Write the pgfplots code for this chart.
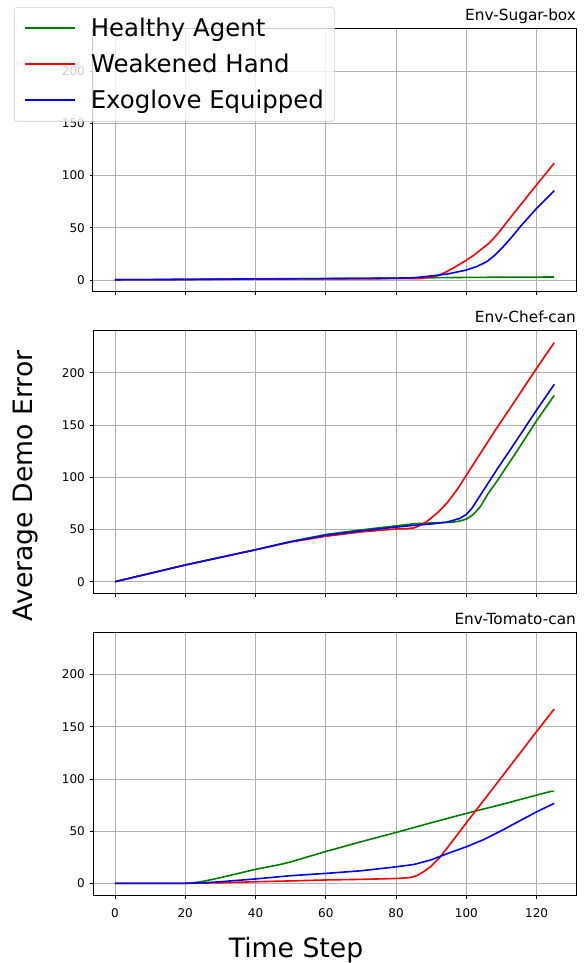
\documentclass[border=0pt]{standalone}
\usepackage{pgfplots}
\pgfplotsset{compat=1.18}
\usepackage{fontspec}
\setmainfont{DejaVu Sans}
\definecolor{mgreen}{RGB}{0,128,0}
\definecolor{gridgray}{RGB}{176,176,176}
\definecolor{legedge}{RGB}{204,204,204}

\pgfplotsset{
  panel/.style={
    scale only axis, width=362.4pt, height=197.25pt, anchor=south west,
    xmin=-6.25, xmax=131.25, ymin=-11.45, ymax=240.45,
    xtick={0,20,...,120}, ytick={0,50,...,200},
    grid=major, major grid style={gridgray, line width=0.6pt},
    axis line style={line width=0.75pt},
    tick align=outside, tick pos=left, major tick length=2.6pt,
    tick style={black, line width=0.6pt},
    ticklabel style={font=\fontsize{9}{10}\selectfont},
    xticklabel style={yshift=-3.5pt},
    /pgf/number format/assume math mode=true,
    title style={at={(1,1)}, anchor=base east, font=\fontsize{11.5}{13}\selectfont, inner sep=0pt},
    every axis plot/.append style={line width=1.2pt, line join=round},
  }
}

\begin{document}
\begin{tikzpicture}
\path[use as bounding box] (0,0) rectangle (438.75pt,722.25pt);

% Top: Env-Sugar-box
\begin{axis}[panel, at={(69.75pt,503.25pt)}, title={Env-Sugar-box}, xticklabels={},
  legend style={at={(-0.1635,1.0837)}, anchor=north west, draw=legedge, fill=white,
    fill opacity=0.8, text opacity=1, rounded corners=2.5pt,
    font=\fontsize{18.3}{22}\selectfont, inner xsep=7pt, inner ysep=5.5pt,
    row sep=6.5pt, column sep=10pt,
    nodes={inner sep=1pt, text height=15.5pt, text depth=3pt}},
  legend cell align=left,
  legend image code/.code={\draw[#1, line width=1.4pt] (0pt,0pt) -- (38pt,0pt);}]
\addplot[mgreen] coordinates {(0,0.3) (20,0.5) (40,1.0) (60,1.3) (80,1.8) (90,2.2) (100,2.5) (110,2.7) (125,2.9)};
\addlegendentry{Healthy Agent}
\addplot[red] coordinates {(0,0.3) (20,0.5) (40,0.9) (60,1.2) (80,1.3) (85,1.3) (87,1.5) (89,2.5) (91.6,3.8) (94.4,8) (97,13) (100,19) (102,23.5) (104,28.8) (106.5,35.5) (108.6,43) (110.5,51) (113.4,63.5) (120,91.3) (125,112)};
\addlegendentry{Weakened Hand}
\addplot[blue] coordinates {(0,0.3) (20,0.6) (40,1.1) (60,1.4) (80,1.8) (85,2.2) (89.7,3.8) (94.4,5.7) (97.5,7.8) (100,9.6) (103,13) (105.8,17.6) (108,23.5) (110.5,32) (113,41.5) (115.3,51) (120,68.7) (125,85.6)};
\addlegendentry{Exoglove Equipped}
\end{axis}

% Middle: Env-Chef-can
\begin{axis}[panel, at={(69.75pt,277pt)}, title={Env-Chef-can}, xticklabels={}]
\addplot[mgreen] coordinates {(0,0) (10,8) (20,16) (30,23.3) (40,30.6) (50,38.5) (60,45.2) (70,49.6) (80,53.5) (85,55.5) (90,56.3) (96,57) (98,58) (100,60) (102,64.5) (104,72) (106,83.5) (108.6,95.8) (113.4,120) (120,154.3) (125,178.5)};
\addplot[red] coordinates {(0,0) (10,8) (20,16) (30,23.3) (40,30.6) (50,38) (60,43.5) (70,47.7) (80,50.5) (83,50.8) (85,51.5) (86.5,53.5) (88.7,57.5) (91.6,65.5) (94.4,75) (97.3,88) (100,102) (104,123) (108.6,147) (113.4,171) (120,204.5) (125,229)};
\addplot[blue] coordinates {(0,0) (10,8) (20,16) (30,23.3) (40,30.6) (50,38.3) (60,44.5) (70,48.7) (80,52.3) (85,54) (90,55.3) (94.4,57) (98.2,60.7) (100,64.5) (101.5,70) (104,83) (108.6,107) (113.4,131) (120,164.5) (125,189)};
\end{axis}

% Bottom: Env-Tomato-can
\begin{axis}[panel, at={(69.75pt,50.8pt)}, title={Env-Tomato-can}]
\addplot[mgreen] coordinates {(0,0) (20,0) (22,0.3) (25,1.8) (30,5.4) (40,13.4) (47,18) (50,20.5) (60,30.5) (70,39.8) (80,48.7) (90,58) (100,67) (110,75.5) (120,84.5) (124,88) (125,88)};
\addplot[red] coordinates {(0,0) (20,0) (30,0.5) (40,1.5) (50,2.3) (60,3.2) (70,3.8) (80,4.6) (84,5.5) (86,7.5) (88,11.5) (90,16.5) (92.5,25) (95.4,37.6) (100,58) (103,71) (108.6,95.5) (113.4,116.5) (120,145.5) (125,167)};
\addplot[blue] coordinates {(0,0) (20,0) (25,0.5) (30,1.5) (40,4.2) (50,7.3) (60,9.5) (70,12) (80,15.8) (85,18) (90,22.5) (95,29) (100,35) (105,42) (110,50.5) (115,59.5) (120,68.5) (125,76.6)};
\end{axis}

\node[rotate=90, font=\fontsize{20}{24}\selectfont] at (19.5pt,357.75pt) {Average Demo Error};
\node[anchor=base, font=\fontsize{20}{24}\selectfont] at (222pt,4.5pt) {Time Step};
\end{tikzpicture}
\end{document}
